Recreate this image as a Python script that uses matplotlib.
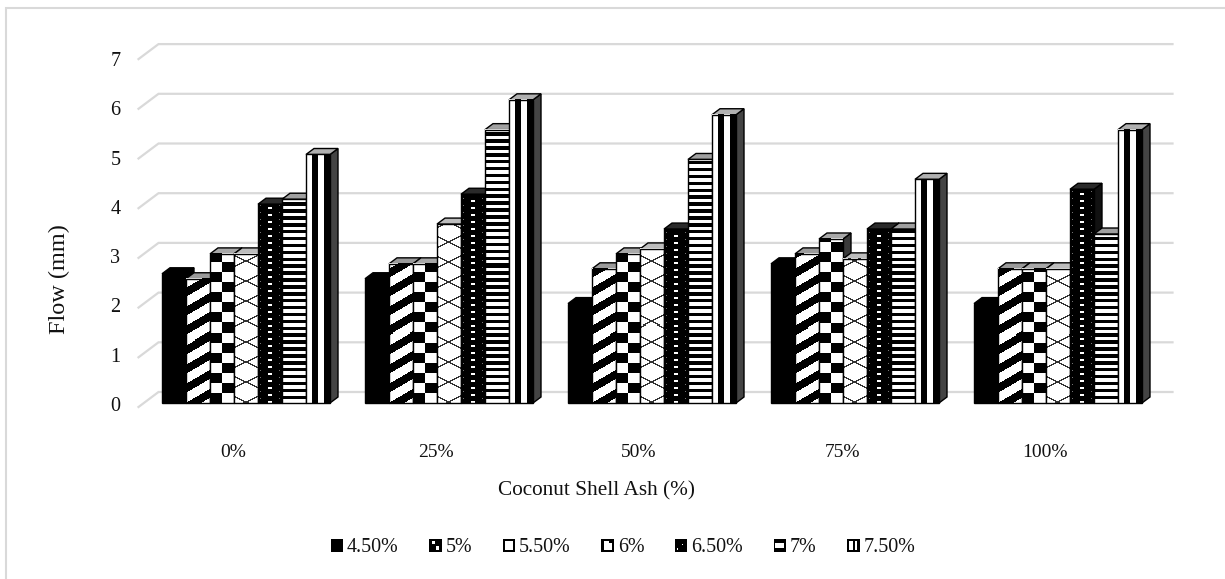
import numpy as np
import matplotlib
matplotlib.use("Agg")
import matplotlib.pyplot as plt
from matplotlib.patches import Polygon, Rectangle
from matplotlib.legend_handler import HandlerBase

categories = ["0%", "25%", "50%", "75%", "100%"]
series_labels = ["4.50%", "5%", "5.50%", "6%", "6.50%", "7%", "7.50%"]
v_450 = [2.6, 2.5, 2.0, 2.8, 2.0]
v_500 = [2.5, 2.8, 2.7, 3.0, 2.7]
v_550 = [3.0, 2.8, 3.0, 3.3, 2.7]
v_600 = [3.0, 3.6, 3.1, 2.9, 2.7]
v_650 = [4.0, 4.2, 3.5, 3.5, 4.3]
v_700 = [4.1, 5.5, 4.9, 3.5, 3.4]
v_750 = [5.0, 6.1, 5.8, 4.5, 5.5]
all_series = [v_450, v_500, v_550, v_600, v_650, v_700, v_750]
y_ticks = [0, 1, 2, 3, 4, 5, 6, 7]

plt.rcParams["font.family"] = ["Liberation Serif", "DejaVu Serif"]
W, H = 1225, 579
fig = plt.figure(figsize=(W / 100, H / 100), dpi=100)

# main drawing axes: x = category index, y = flow value, spans the full figure
GROUP_PX, UNIT_PX = 203.0, 49.7
X0_PX, Y0_PX = 246.0, 403.0
ax = fig.add_axes([0, 0, 1, 1])
ax.axis("off")
xlim = (-X0_PX / GROUP_PX, (W - X0_PX) / GROUP_PX)
ylim = ((Y0_PX - H) / UNIT_PX, Y0_PX / UNIT_PX)
px_x = 1 / GROUP_PX
px_y = 1 / UNIT_PX

# outer chart frame: only left and top edges show in the crop
fx = xlim[0] + 6 * px_x
fy = ylim[1] - 7.5 * px_y
ax.plot([fx, fx, xlim[1]], [ylim[0] + 1 * px_y, fy, fy], color="#d9d9d9", lw=1.5, zorder=0,
        solid_joinstyle="miter")

# gridlines on the back wall plus slanted floor/wall lines
x_front = -101.5 * px_x - 6 * px_x
x_back = -101.5 * px_x + 14 * px_x
x_end = 4.5 + 13 * px_x
y_fr = 4 * px_y
y_bk = 11 * px_y
for t in y_ticks:
    ax.plot([x_front, x_back, x_end], [t - y_fr, t + y_bk, t + y_bk],
            color="#d9d9d9", lw=1.6, zorder=1, solid_joinstyle="miter")


def tile(kind, w, h):
    """Greyscale hatch tile of w x h pixels; 0 is black, 1 is white."""
    yy, xx = np.mgrid[0:h, 0:w]
    if kind == 0:
        return np.zeros((h, w))
    if kind == 1:
        return (((yy - 0.58 * xx) % 19) < 10).astype(float)
    if kind == 2:
        return (((xx // 12) + (yy // 10)) % 2 == 1).astype(float)
    if kind == 3:
        img = np.ones((h, w))
        tri = np.abs(((xx + 1) % 24) - 12) * 0.5
        img[((yy + tri) % 20) < 1.2] = 0.2
        img[((yy - tri) % 20) < 1.2] = 0.2
        return img
    if kind == 4:
        img = np.zeros((h, w))
        img[((yy % 6.9) < 2) & (np.abs(xx - 11.5) <= 1.5)] = 1.0
        img[(((yy + 3.4) % 6.9) < 1) & (np.abs(xx - 2) <= 0)] = 0.45
        img[(((yy + 3.4) % 6.9) < 1) & (np.abs(xx - 21) <= 0)] = 0.45
        return img
    if kind == 5:
        return ((yy % 6.9) < 3.4).astype(float)
    return ((xx % 12) < 6).astype(float)


top_colors = ["#000000", "#9a9a9a", "#a8a8a8", "#bdbdbd", "#2a2a2a", "#a0a0a0", "#b0b0b0"]
side_colors = ["#000000", "#3a3a3a", "#3a3a3a", "#555555", "#111111", "#3a3a3a", "#444444"]

BW, DX, DY = 24.0 * px_x, 8.0 * px_x, 6.0 * px_y
n = len(all_series)
for g in range(len(categories)):
    for s, vals in enumerate(all_series):
        v = vals[g]
        x = g + (s - n / 2) * BW
        z = 3 + s * 0.1
        side = Polygon([(x + BW, 0), (x + BW + DX, DY), (x + BW + DX, v + DY), (x + BW, v)],
                       closed=True, fc=side_colors[s], ec="black", lw=1.0, zorder=z)
        top = Polygon([(x, v), (x + DX, v + DY), (x + BW + DX, v + DY), (x + BW, v)],
                      closed=True, fc=top_colors[s], ec="black", lw=1.0, zorder=z)
        ax.add_patch(side)
        ax.add_patch(top)
        ww, hh = 24, max(int(round(v * UNIT_PX)), 1)
        ax.imshow(tile(s, ww, hh), extent=(x, x + BW, 0, v), origin="lower", cmap="gray",
                  vmin=0, vmax=1, aspect="auto", interpolation="nearest", zorder=z + 0.01)
        ax.add_patch(Rectangle((x, 0), BW, v, fc="none", ec="black", lw=1.0, zorder=z + 0.02))
ax.set_xlim(*xlim)
ax.set_ylim(*ylim)

# label axes: only carries ticks, tick labels, axis titles and legend
L, R, T, B = 131.5, 1146.5, 59.0, 404.0
lab = fig.add_axes([L / W, 1 - B / H, (R - L) / W, (B - T) / H], facecolor="none")
for sp in lab.spines.values():
    sp.set_visible(False)
lab.set_xlim(-0.5, 4.5)
lab.set_ylim(0, 7)
lab.set_xticks(range(len(categories)), categories)
lab.set_yticks(y_ticks, [str(t) for t in y_ticks])
lab.tick_params(axis="x", length=0, labelsize=14, colors="#111111", pad=28.5)
lab.tick_params(axis="y", length=0, labelsize=14.5, colors="#111111", pad=8)
fig.text(596 / W, 1 - 491 / H, "Coconut Shell Ash (%)", ha="center", va="center", fontsize=15.3, color="#111111")
fig.text(59 / W, 1 - 279 / H, "Flow (mm)", ha="center", va="center", rotation=90, fontsize=17.5, color="#111111")


class SwatchHandler(HandlerBase):
    """Small framed legend swatches echoing each bar's hatch."""
    inner = {
        0: [],
        1: [(0.18, 0.6, 0.3, 0.22), (0.55, 0.18, 0.27, 0.25)],
        2: [(0.2, 0.2, 0.6, 0.6)],
        3: [(0.18, 0.18, 0.64, 0.52), (0.18, 0.7, 0.45, 0.12)],
        4: [(0.55, 0.5, 0.12, 0.12), (0.2, 0.2, 0.08, 0.08)],
        5: [(0.15, 0.3, 0.7, 0.4)],
        6: [(0.18, 0.18, 0.26, 0.64), (0.6, 0.18, 0.22, 0.64)],
    }

    def create_artists(self, legend, orig, xd, yd, width, height, fontsize, trans):
        s = orig.get_gid()
        arts = [Rectangle((-xd, -yd), width, height, fc="black", ec="none", transform=trans)]
        for a, b, c, d in self.inner[int(s)]:
            arts.append(Rectangle((-xd + a * width, -yd + b * height), c * width, d * height,
                                  fc="white", ec="none", transform=trans))
        return arts


handles = []
for i, label in enumerate(series_labels):
    p = Rectangle((0, 0), 1, 1, label=label)
    p.set_gid(str(i))
    handles.append(p)
leg = fig.legend(handles=handles, labels=series_labels, ncol=7, loc="center",
                 bbox_to_anchor=(623 / W, 1 - 548 / H), frameon=False, fontsize=14.4,
                 handler_map={Rectangle: SwatchHandler()}, handlelength=0.62, handleheight=0.66,
                 handletextpad=0.2, columnspacing=1.53, borderpad=0, labelcolor="#111111")

fig.savefig("out.png", dpi=100, facecolor="white")
